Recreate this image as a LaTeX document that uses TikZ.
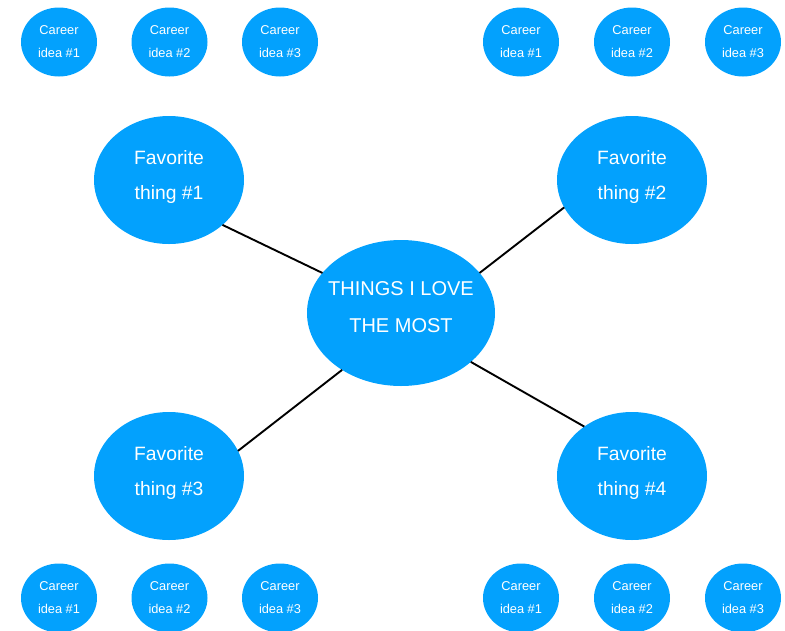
\documentclass[tikz,border=0pt]{standalone}
\usepackage{fontspec}
\setmainfont{Liberation Sans}
\usetikzlibrary{shapes.geometric}
\definecolor{bubble}{RGB}{3,161,253}
\newcommand{\ztext}[2]{\raisebox{#1}[0pt][0pt]{\makebox[0pt]{\begin{tabular}{@{}c@{}}#2\end{tabular}}}}
\begin{document}
\begin{tikzpicture}[x=1pt,y=-1pt,
  base/.style={ellipse,fill=bubble,draw=none,inner sep=0pt,outer sep=0pt,text=white},
  small/.style={base,minimum width=76pt,minimum height=69pt,font=\fontsize{12.8}{23}\selectfont},
  fav/.style={base,minimum width=150pt,minimum height=128pt,font=\fontsize{19.3}{35}\selectfont},
  hub/.style={base,minimum width=188pt,minimum height=146pt,font=\fontsize{20}{37}\selectfont},
  link/.style={draw=black,line width=1.9pt}]
\clip (0,0) rectangle (785,630);
\useasboundingbox (0,0) rectangle (785,630);
% top row
\node[small] (t1) at (59,42) {\ztext{-2pt}{Career\\idea \#1}};
\node[small] (t2) at (169.5,42) {\ztext{-2pt}{Career\\idea \#2}};
\node[small] (t3) at (280,42) {\ztext{-2pt}{Career\\idea \#3}};
\node[small] (t4) at (521,42) {\ztext{-2pt}{Career\\idea \#1}};
\node[small] (t5) at (632,42) {\ztext{-2pt}{Career\\idea \#2}};
\node[small] (t6) at (743,42) {\ztext{-2pt}{Career\\idea \#3}};
% bottom row
\node[small] (b1) at (59,598) {\ztext{-2pt}{Career\\idea \#1}};
\node[small] (b2) at (169.5,598) {\ztext{-2pt}{Career\\idea \#2}};
\node[small] (b3) at (280,598) {\ztext{-2pt}{Career\\idea \#3}};
\node[small] (b4) at (521,598) {\ztext{-2pt}{Career\\idea \#1}};
\node[small] (b5) at (632,598) {\ztext{-2pt}{Career\\idea \#2}};
\node[small] (b6) at (743,598) {\ztext{-2pt}{Career\\idea \#3}};
% favorites
\node[fav] (f1) at (169,180) {\ztext{0pt}{Favorite\\thing \#1}};
\node[fav] (f2) at (632,180) {\ztext{0pt}{Favorite\\thing \#2}};
\node[fav] (f3) at (169,476) {\ztext{0pt}{Favorite\\thing \#3}};
\node[fav] (f4) at (632,476) {\ztext{0pt}{Favorite\\thing \#4}};
% hub
\node[hub] (c) at (401,313) {\ztext{1.5pt}{THINGS I LOVE\\THE MOST}};
% links
\draw[link] (f1.-40) -- (c.153);
\draw[link] (f2.-158) -- (c.27);
\draw[link] (f3.20.5) -- (c.224.5);
\draw[link] (f4.134) -- (c.-35);
\end{tikzpicture}
\end{document}
